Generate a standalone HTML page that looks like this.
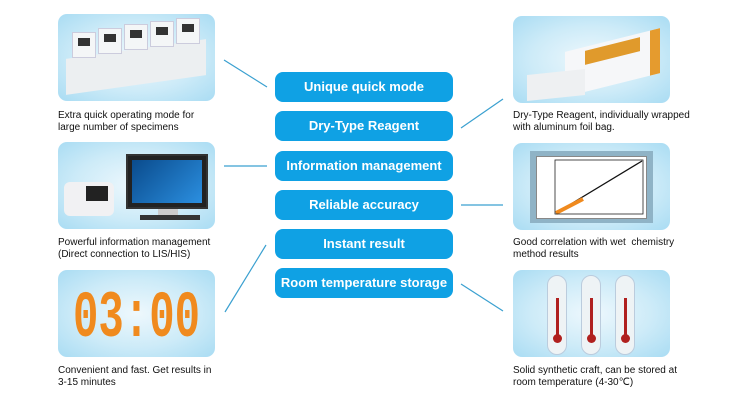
<!DOCTYPE html>
<html><head><meta charset="utf-8"><style>
*{margin:0;padding:0;box-sizing:border-box}
body{width:750px;height:407px;background:#fff;position:relative;overflow:hidden;font-family:"Liberation Sans",sans-serif}
.p{position:absolute;width:157px;height:87px;border-radius:9px;background:radial-gradient(ellipse at 50% 50%,#eef8fd 0%,#cdebf8 55%,#a9dcf3 100%);overflow:hidden}
.c{position:absolute;font-size:10px;line-height:12px;color:#111;white-space:nowrap}
.b{position:absolute;left:275px;width:178px;height:30px;border-radius:8px;background:#0fa1e4;color:#fff;font-weight:bold;font-size:13px;text-align:center;line-height:30px;white-space:nowrap;font-family:"Liberation Sans",sans-serif}
svg{position:absolute;left:0;top:0}
.u{position:absolute;top:8px;width:24px;height:26px;background:#f4f6f7;border:1px solid #ccd}
.u i{position:absolute;left:5px;top:5px;width:12px;height:8px;background:#333}
</style></head><body>
<div class="p" style="left:58px;top:14px">
<div style="position:absolute;left:8px;top:35px;width:140px;height:36px;background:#eceff1;transform:skewY(-8deg)"></div>
<div class="u" style="left:14px;top:18px"><i></i></div><div class="u" style="left:40px;top:14px"><i></i></div><div class="u" style="left:66px;top:10px"><i></i></div><div class="u" style="left:92px;top:7px"><i></i></div><div class="u" style="left:118px;top:4px"><i></i></div>
</div>
<div class="c" style="left:58px;top:110px">Extra quick operating mode for<br>large number of specimens</div>
<div class="p" style="left:58px;top:142px">
<div style="position:absolute;left:68px;top:12px;width:82px;height:55px;background:#222;border:2px solid #333"><div style="position:absolute;left:4px;top:4px;right:4px;bottom:4px;background:linear-gradient(135deg,#0a4b8c,#2b8fe0)"></div></div>
<div style="position:absolute;left:100px;top:67px;width:20px;height:6px;background:#ccc"></div>
<div style="position:absolute;left:82px;top:73px;width:60px;height:5px;background:#333"></div>
<div style="position:absolute;left:6px;top:40px;width:50px;height:34px;background:#f1f1f3;border-radius:6px"><div style="position:absolute;left:22px;top:4px;width:22px;height:15px;background:#222"></div></div>
</div>
<div class="c" style="left:58px;top:237px">Powerful information management<br>(Direct connection to LIS/HIS)</div>
<div class="p" style="left:58px;top:270px">
<svg width="157" height="87"><text x="15" y="66" font-family="Liberation Mono" font-weight="bold" font-size="66" fill="#f08a1e" textLength="127" lengthAdjust="spacingAndGlyphs">03:00</text></svg>
</div>
<div class="c" style="left:58px;top:365px">Convenient and fast. Get results in<br>3-15 minutes</div>

<div class="p" style="left:513px;top:16px">
<div style="position:absolute;left:52px;top:24px;width:95px;height:45px;background:#f6f7f9;transform:skewY(-14deg)"><div style="position:absolute;left:20px;top:4px;width:55px;height:14px;background:#e09a2c"></div><div style="position:absolute;right:0;top:0;width:10px;height:45px;background:#e59b2e"></div></div>
<div style="position:absolute;left:14px;top:56px;width:58px;height:26px;background:#eef0f2;transform:skewY(-6deg)"></div>
</div>
<div class="c" style="left:513px;top:110px">Dry-Type Reagent, individually wrapped<br>with aluminum foil bag.</div>
<div class="p" style="left:513px;top:143px">
<div style="position:absolute;left:17px;top:8px;width:123px;height:72px;background:#8fb3c6"></div>
<div style="position:absolute;left:23px;top:13px;width:111px;height:63px;background:#fff;border:1px solid #888"></div>
<svg width="157" height="87"><line x1="43" y1="70" x2="129" y2="18" stroke="#111" stroke-width="1.3"/><line x1="43" y1="70" x2="70" y2="56" stroke="#f08a1e" stroke-width="4"/><rect x="42" y="17" width="88" height="54" fill="none" stroke="#222" stroke-width="0.8"/></svg>
</div>
<div class="c" style="left:513px;top:237px">Good correlation with wet&nbsp; chemistry<br>method results</div>
<div class="p" style="left:513px;top:270px">
<div style="position:absolute;left:34px;top:5px;width:20px;height:80px;border-radius:10px;background:#eef3f5;border:1px solid #bcd"><div style="position:absolute;left:8px;top:22px;width:3px;height:40px;background:#b0201e"></div><div style="position:absolute;left:5px;top:58px;width:9px;height:9px;border-radius:50%;background:#b0201e"></div></div>
<div style="position:absolute;left:68px;top:5px;width:20px;height:80px;border-radius:10px;background:#eef3f5;border:1px solid #bcd"><div style="position:absolute;left:8px;top:22px;width:3px;height:40px;background:#b0201e"></div><div style="position:absolute;left:5px;top:58px;width:9px;height:9px;border-radius:50%;background:#b0201e"></div></div>
<div style="position:absolute;left:102px;top:5px;width:20px;height:80px;border-radius:10px;background:#eef3f5;border:1px solid #bcd"><div style="position:absolute;left:8px;top:22px;width:3px;height:40px;background:#b0201e"></div><div style="position:absolute;left:5px;top:58px;width:9px;height:9px;border-radius:50%;background:#b0201e"></div></div>
</div>
<div class="c" style="left:513px;top:365px">Solid synthetic craft, can be stored at<br>room temperature (4-30℃)</div>

<div class="b" style="top:72px">Unique quick mode</div>
<div class="b" style="top:111px">Dry-Type Reagent</div>
<div class="b" style="top:151px">Information management</div>
<div class="b" style="top:190px">Reliable accuracy</div>
<div class="b" style="top:229px">Instant result</div>
<div class="b" style="top:268px">Room temperature storage</div>

<svg width="750" height="407"><g stroke="#3aa0d0" stroke-width="1.2" fill="none">
<line x1="224" y1="60" x2="267" y2="87"/>
<line x1="224" y1="166" x2="267" y2="166"/>
<line x1="266" y1="245" x2="225" y2="312"/>
<line x1="461" y1="128" x2="503" y2="99"/>
<line x1="461" y1="205" x2="503" y2="205"/>
<line x1="461" y1="284" x2="503" y2="311"/>
</g></svg>
</body></html>
